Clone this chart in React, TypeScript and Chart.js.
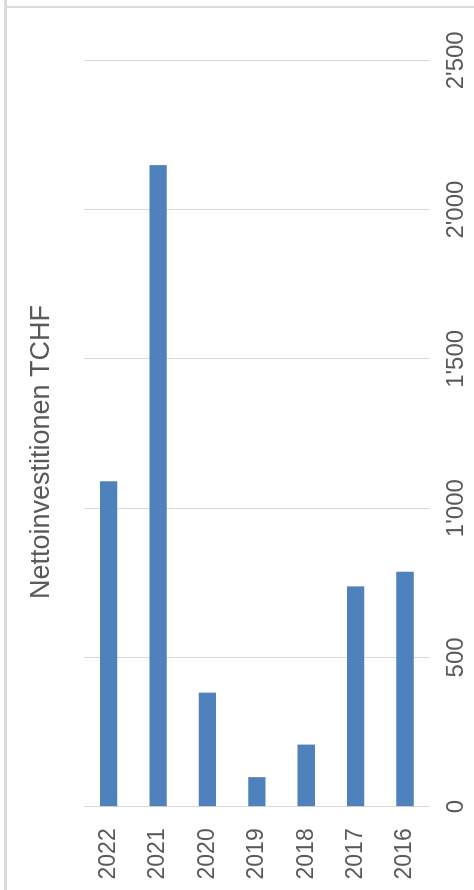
import React, { useEffect, useRef } from "react";
import { Chart, registerables } from "chart.js";

Chart.register(...registerables);

// Net investments per year (TCHF), newest first
const years: string[] = ["2022", "2021", "2020", "2019", "2018", "2017", "2016"];
const investments: number[] = [1090, 2149, 382, 99, 208, 738, 787];
const valueTicks: number[] = [0, 500, 1000, 1500, 2000, 2500];
const chartTitle = "Nettoinvestitionen TCHF";

const FONT = "'Liberation Sans', Arial, Helvetica, sans-serif";
const TEXT = "#595959";

const fmtSwiss = (v: number): string => {
  if (Math.abs(v) < 1000) return String(v);
  const th = Math.floor(v / 1000);
  const rest = String(v % 1000).padStart(3, "0");
  return `${th}'${rest}`;
};

// Chart title drawn in the reserved band above the plot area
const titlePlugin = {
  id: "headerTitle",
  afterDraw(chart: any) {
    const ctx = chart.ctx as CanvasRenderingContext2D;
    ctx.save();
    ctx.font = `27px ${FONT}`;
    ctx.fillStyle = TEXT;
    ctx.textAlign = "center";
    ctx.textBaseline = "alphabetic";
    ctx.fillText(chartTitle, chart.width / 2 - 7, 48.5);
    ctx.restore();
  },
};

export default function App() {
  const canvasRef = useRef<HTMLCanvasElement | null>(null);

  useEffect(() => {
    const canvas = canvasRef.current;
    if (!canvas) return;
    const chart = new Chart(canvas, {
      type: "bar",
      data: {
        labels: years,
        datasets: [
          {
            label: chartTitle,
            data: investments,
            backgroundColor: "#4f81bd",
            borderWidth: 0,
            categoryPercentage: 1,
            barPercentage: 0.35,
          },
        ],
      },
      options: {
        indexAxis: "y",
        responsive: false,
        animation: false,
        layout: { padding: { left: 0, right: 60.3, top: 84, bottom: 0 } },
        plugins: {
          legend: { display: false },
          tooltip: { enabled: false },
          title: { display: false },
        },
        scales: {
          y: {
            position: "left",
            grid: { display: false, drawTicks: false },
            border: { display: false },
            ticks: {
              color: TEXT,
              font: { family: FONT, size: 23 },
              padding: 21.6,
            },
            afterFit: (s: any) => {
              s.width = 83.3;
            },
          },
          x: {
            position: "bottom",
            min: valueTicks[0],
            max: valueTicks[valueTicks.length - 1],
            afterBuildTicks: (s: any) => {
              s.ticks = valueTicks.map((v) => ({ value: v }));
            },
            grid: { color: "#d9d9d9", lineWidth: 1, drawTicks: false },
            border: { display: false },
            ticks: {
              color: TEXT,
              font: { family: FONT, size: 24 },
              padding: 12,
              maxRotation: 0,
              callback: (v: any) => fmtSwiss(Number(v)),
            },
            afterFit: (s: any) => {
              s.height = 44.3;
            },
          },
        },
      },
      plugins: [titlePlugin],
    });
    return () => chart.destroy();
  }, []);

  return (
    <div
      style={{
        position: "fixed",
        left: 0,
        top: 0,
        width: 474,
        height: 890,
        overflow: "hidden",
        background: "#ffffff",
      }}
    >
      <div
        style={{
          position: "absolute",
          left: 0,
          top: 0,
          width: 890,
          height: 474,
          transformOrigin: "0 0",
          transform: "translateY(890px) rotate(-90deg)",
        }}
      >
        <canvas ref={canvasRef} width={890} height={474} style={{ display: "block" }} />
      </div>
      <div
        style={{
          position: "absolute",
          left: 4,
          top: 0,
          width: 3,
          height: 890,
          background: "#dadada",
        }}
      />
      <div
        style={{
          position: "absolute",
          left: 7,
          top: 6,
          width: 467,
          height: 1.5,
          background: "#dadada",
        }}
      />
    </div>
  );
}
